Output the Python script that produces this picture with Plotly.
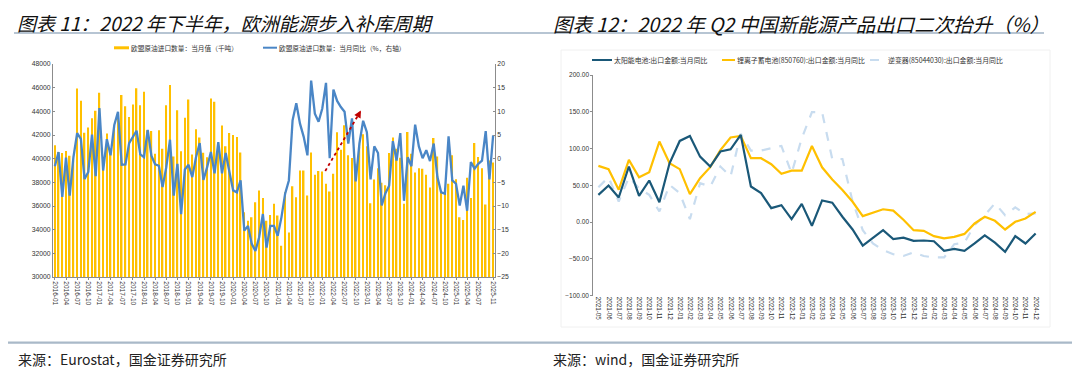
import plotly.graph_objects as go

# browser body margin is 8px: the figure is drawn from screen (8, 8)
OFF = 8
W, H = 1072, 363

# ---------------- Left chart data (EU crude oil imports) ----------------
eu_months = [f"{y}-{m:02d}" for y in range(2016, 2026) for m in range(1, 13)][:119]
eu_imports = [
    41130, 40560, 40480, 40650, 40250, 39850, 45940, 44890, 42200, 42630,
    43420, 44040, 45570, 40140, 42120, 40700, 42680, 43530, 45370, 44440,
    43530, 44580, 45960, 44520, 45650, 42400, 42340, 40420, 42400, 40840,
    44520, 46220, 40190, 44100, 40620, 43450, 45000, 40360, 42480, 41780,
    40500, 40110, 45090, 44800, 40790, 42800, 41040, 42170, 42000, 41830,
    40530, 35470, 34760, 35040, 36320, 37310, 36680, 34760, 35240, 36180,
    35190, 32640, 37170, 33770, 37670, 36740, 39000, 39000, 36880, 40530,
    38640, 38950, 38920, 37870, 37220, 38720, 42230, 40760, 42820, 40280,
    40050, 39570, 40980, 42060, 41040, 36230, 38240, 39200, 37960, 37760,
    40480, 41780, 40840, 40080, 36180, 42260, 40420, 38830, 39200, 39150,
    38640, 37560, 41750, 40190, 37170, 37080, 37870, 40280, 38270, 35040,
    34820, 38380, 36680, 41320, 40140, 39200, 36120, 39850, 39680,
]
eu_yoy = [
    -1.6, 1.4, -8.1, 0.2, -7.8, 0.3, 5.4, 4.2, -4.3, -2.8,
    5.1, -3.7, 10.7, -2.5, 4.1, 0.7, 7.1, 9.9, -1.3, -1.2,
    3.3, 4.6, 5.9, 0.9, 0.3, 6.1, 0.6, -1.2, -1.5, -6.0,
    -1.8, 4.0, -7.8, -1.1, -11.7, -2.3, -1.3, -3.9, 0.3, 3.3,
    -4.5, -1.8, 1.4, -3.1, 3.5, -3.1, 1.2, -2.8, -6.7, -7.1,
    -4.6, -15.2, -14.2, -18.0, -19.5, -16.6, -11.7, -18.8, -14.2, -14.2,
    -16.3, -12.4, -7.4, -4.6, 8.1, 11.7, 7.4, 4.6, 0.7, 16.5,
    9.5, 7.8, 10.6, 16.0, 0.1, 14.6, 12.2, 10.9, 9.9, 3.2,
    8.5, -4.8, 3.2, 8.0, 5.6, -4.4, 2.6, 1.2, -9.9, -7.3,
    -5.7, 3.7, -0.4, 5.4, -8.9, 0.3, -1.6, 7.2, 2.6, 0.1,
    1.8, -0.5, 3.2, -3.9, -7.1, -7.4, 4.7, -4.6, -5.3, -9.9,
    -5.7, -11.0, -0.7, -2.1, -1.1, -0.4, 5.8, -4.4, 4.9,
]
eu_tick_idx = list(range(0, 117, 3)) + [118]
eu_tick_vals = [eu_months[i] for i in eu_tick_idx]

# red dashed arrow (category index, right-axis %)
arrow_start = (72.8, -2.6)
arrow_end = (82.4, 10.2)

# ---------------- Right chart data (China new-energy exports) ----------------
cn_months = [f"{y}-{m:02d}" for y in range(2021, 2025) for m in range(1, 13)][4:]
solar_yoy = [
    37, 49.8, 33.5, 75.6, 35.7, 56.6, 27, 80, 110.4, 117.2,
    89, 75.6, 96, 99, 118.6, 48.4, 39.4, 19, 23, 4,
    24.8, -5, 29.5, 26.5, 7.3, -10, -32, -22, -11, -23,
    -21, -25.5, -25, -26, -39, -36.5, -39, -29, -18, -28,
    -40.4, -19, -29, -15.4,
]
lithium_yoy = [
    76.5, 72, 44, 84.6, 61, 67.9, 109.5, 80, 72, 38,
    59.7, 74.7, 98, 115, 117.2, 86.9, 86.9, 78.7, 65.6, 70,
    70, 103.5, 74.5, 58, 43.6, 27.7, 8.2, 12.5, 17.5, 15.7,
    3.2, -10.9, -11.8, -19, -22, -20, -16, -1.8, 7.3, 1.8,
    -10, 0.5, 5, 14,
]
inverter_yoy = [
    47.5, 61, 28, 61, 46, 37, 14.5, 50.6, 39.4, 4,
    53, 48.4, 75.6, 62, 120, 97.3, 97.3, 100, 103.6, 66.5,
    114, 149.4, 149.4, 85.8, 85.8, 28, -10.9, -29, -38, -43.6,
    -46, -41, -46, -48, -48, -30, -28, -4, 9.5, 25.5,
    9.5, 20, 10.9, 11.8,
]

# ---------------- styles ----------------
YELLOW = "#FFC000"
BLUE = "#4A86C6"
DARK = "#1A5878"
LIGHT = "#C8DCEF"
AXIS = "#8C8C8C"
TICKFONT = dict(family="Liberation Sans, Arial", size=6.8, color="#333333")
CJK = "Noto Sans CJK SC"


def px(x):
    return (x - OFF) / W


def py(y):
    return 1 - (y - OFF) / H


fig = go.Figure()

fig.add_trace(go.Bar(x=eu_months, y=eu_imports, marker_color=YELLOW, marker_line_width=0,
                     width=0.4, xaxis="x", yaxis="y", showlegend=False))
fig.add_trace(go.Scatter(x=eu_months, y=eu_yoy, mode="lines", line=dict(color=BLUE, width=2.3),
                         xaxis="x", yaxis="y2", showlegend=False))

fig.add_trace(go.Scatter(x=cn_months, y=inverter_yoy, mode="lines",
                         line=dict(color=LIGHT, width=2.2, dash="dash"),
                         xaxis="x3", yaxis="y3", showlegend=False))
fig.add_trace(go.Scatter(x=cn_months, y=lithium_yoy, mode="lines", line=dict(color=YELLOW, width=2.2),
                         xaxis="x3", yaxis="y3", showlegend=False))
fig.add_trace(go.Scatter(x=cn_months, y=solar_yoy, mode="lines", line=dict(color=DARK, width=2.2),
                         xaxis="x3", yaxis="y3", showlegend=False))

y_dom_left = [py(277), py(64)]
y_dom_right = [py(295.7), py(75)]
zero_pos = y_dom_right[0] + (y_dom_right[1] - y_dom_right[0]) * (100 / 300)

fig.update_layout(
    template="none",
    width=W, height=H,
    margin=dict(l=0, r=0, t=0, b=0, pad=0),
    paper_bgcolor="white", plot_bgcolor="white",
    xaxis=dict(domain=[px(53), px(495)], type="category", range=[-0.5, 118.5], anchor="y",
               tickmode="array", tickvals=eu_tick_vals, ticktext=eu_tick_vals, tickangle=90,
               tickfont=dict(family="Liberation Sans, Arial", size=6.5, color="#333333"),
               showline=True, linecolor=AXIS, linewidth=1, ticks="outside", ticklen=2,
               tickcolor=AXIS, showgrid=False, zeroline=False, automargin=False),
    yaxis=dict(domain=y_dom_left, range=[30000, 48000], dtick=2000, tick0=30000, anchor="x",
               tickformat="d", showline=True, linecolor=AXIS, linewidth=1, ticks="inside", ticklen=2,
               tickcolor=AXIS, showgrid=False, zeroline=False, tickfont=TICKFONT, automargin=False),
    yaxis2=dict(domain=y_dom_left, range=[-25, 20], dtick=5, tick0=-25, overlaying="y", side="right",
                anchor="x", showline=True, linecolor=AXIS, linewidth=1, ticks="inside", ticklen=2,
                tickcolor=AXIS, showgrid=False, zeroline=False, tickfont=TICKFONT, automargin=False),
    xaxis3=dict(domain=[px(593.3), px(1040.7)], type="category", range=[-0.5, 43.5], anchor="y3",
                tickangle=90, showline=False, ticks="", showgrid=False, zeroline=False, automargin=False,
                tickfont=dict(family="Liberation Sans, Arial", size=6.3, color="#333333")),
    xaxis4=dict(domain=[px(593.3), px(1040.7)], range=[-0.5, 43.5], overlaying="x3", anchor="free",
                position=zero_pos, showline=True, linecolor="#595959", linewidth=1.3,
                tickmode="array", tickvals=[i + 0.5 for i in range(-1, 44)], ticks="inside",
                ticklen=3, tickcolor="#595959", showticklabels=False, showgrid=False, zeroline=False,
                automargin=False),
    yaxis3=dict(domain=y_dom_right, range=[-100, 200], dtick=50, tick0=-100, tickformat=".2f",
                anchor="x3", showline=True, linecolor=AXIS, linewidth=1, ticks="outside", ticklen=2,
                tickcolor=AXIS, showgrid=False, zeroline=False, automargin=False,
                tickfont=dict(family="Liberation Sans, Arial", size=6.5, color="#333333")),
    showlegend=False,
)

shapes = []
# title underline and bottom rule
shapes.append(dict(type="line", xref="paper", yref="paper", x0=px(14), x1=px(1044), y0=py(33), y1=py(33),
                   line=dict(color="#9FB2C4", width=1.5)))
shapes.append(dict(type="line", xref="paper", yref="paper", x0=px(8), x1=px(1077), y0=py(342.7), y1=py(342.7),
                   line=dict(color="#A9B9C8", width=2.2)))
# faint chart frame on the right panel
shapes.append(dict(type="rect", xref="paper", yref="paper", x0=px(561), x1=px(1050), y0=py(327), y1=py(50),
                   line=dict(color="#F0F0F0", width=1)))
# left legend swatches
shapes.append(dict(type="rect", xref="paper", yref="paper", x0=px(114), x1=px(129), y0=py(49.3), y1=py(46.3),
                   fillcolor=YELLOW, line=dict(width=0)))
shapes.append(dict(type="line", xref="paper", yref="paper", x0=px(263), x1=px(277), y0=py(47.7), y1=py(47.7),
                   line=dict(color=BLUE, width=2)))
# right legend swatches
shapes.append(dict(type="line", xref="paper", yref="paper", x0=px(592), x1=px(612), y0=py(60), y1=py(60),
                   line=dict(color=DARK, width=2)))
shapes.append(dict(type="line", xref="paper", yref="paper", x0=px(722), x1=px(735), y0=py(60), y1=py(60),
                   line=dict(color=YELLOW, width=2)))
shapes.append(dict(type="line", xref="paper", yref="paper", x0=px(870), x1=px(885), y0=py(60), y1=py(60),
                   line=dict(color=LIGHT, width=2, dash="dash")))
# red dashed arrow shaft
shapes.append(dict(type="line", xref="x", yref="y2", x0=arrow_start[0], y0=arrow_start[1],
                   x1=arrow_end[0] - 0.5, y1=arrow_end[1] - 0.7,
                   line=dict(color="#C00000", width=1.8, dash="dot")))
fig.update_layout(shapes=shapes)

ann = []
ann.append(dict(text="<i>图表 11：2022 年下半年，欧洲能源步入补库周期</i>", xref="paper", yref="paper",
                x=px(16), y=1.0, xanchor="left", yanchor="top", showarrow=False, borderpad=0,
                font=dict(family=CJK, size=19, color="#111111")))
ann.append(dict(text="<i>图表 12：2022 年 Q2 中国新能源产品出口二次抬升（%）</i>",
                xref="paper", yref="paper", x=px(552), y=1.0, xanchor="left", yanchor="top",
                showarrow=False, borderpad=0, font=dict(family=CJK, size=19.5, color="#111111")))
legend_font = dict(family=CJK, size=6.7, color="#333333")
ann.append(dict(text="欧盟原油进口数量：当月值（千吨）", xref="paper", yref="paper", x=px(130), y=py(47.7),
                xanchor="left", yanchor="middle", showarrow=False, borderpad=0, font=legend_font))
ann.append(dict(text="欧盟原油进口数量：当月同比（%，右轴）", xref="paper", yref="paper", x=px(278), y=py(47.7),
                xanchor="left", yanchor="middle", showarrow=False, borderpad=0, font=legend_font))
rfont = dict(family=CJK, size=6.9, color="#333333")
ann.append(dict(text="太阳能电池:出口金额:当月同比", xref="paper", yref="paper", x=px(613), y=py(60),
                xanchor="left", yanchor="middle", showarrow=False, borderpad=0, font=rfont))
ann.append(dict(text="锂离子蓄电池(850760):出口金额:当月同比", xref="paper", yref="paper", x=px(736), y=py(60),
                xanchor="left", yanchor="middle", showarrow=False, borderpad=0, font=rfont))
ann.append(dict(text="逆变器(85044030):出口金额:当月同比", xref="paper", yref="paper", x=px(887), y=py(60),
                xanchor="left", yanchor="middle", showarrow=False, borderpad=0, font=rfont))
src_font = dict(family=CJK, size=14, color="#222222")
ann.append(dict(text="来源：Eurostat，国金证券研究所", xref="paper", yref="paper", x=px(17), y=py(359),
                xanchor="left", yanchor="middle", showarrow=False, borderpad=0, font=src_font))
ann.append(dict(text="来源：wind，国金证券研究所", xref="paper", yref="paper", x=px(552), y=py(359),
                xanchor="left", yanchor="middle", showarrow=False, borderpad=0, font=src_font))
# arrow head
ann.append(dict(text="", x=arrow_end[0], y=arrow_end[1], xref="x", yref="y2",
                ax=arrow_end[0] - 0.7, ay=arrow_end[1] - 1.0, axref="x", ayref="y2",
                showarrow=True, arrowhead=2, arrowsize=0.8, arrowwidth=1.8, arrowcolor="#C00000"))
fig.update_layout(annotations=ann)

fig.write_html("out.html")
